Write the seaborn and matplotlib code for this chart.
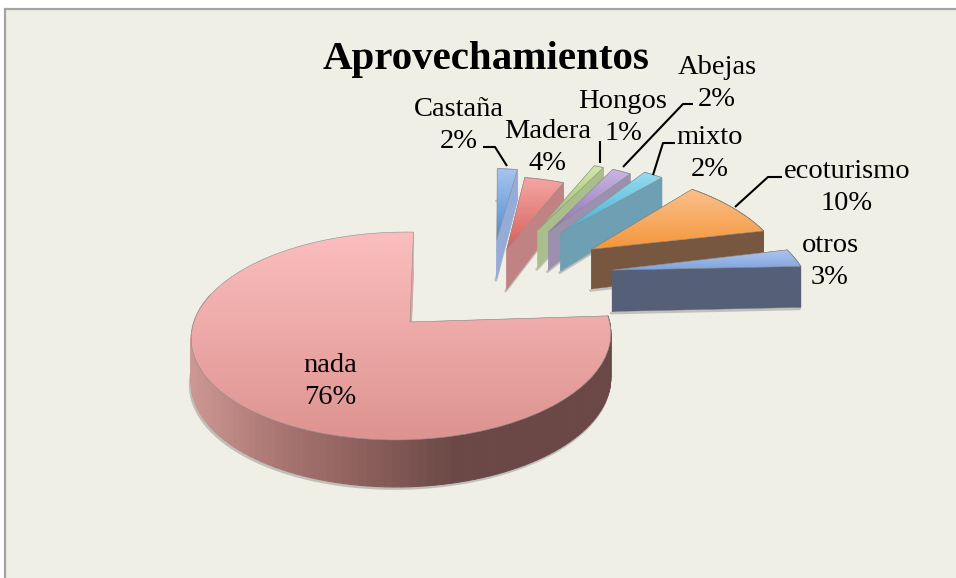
import numpy as np
import seaborn as sns
import matplotlib
matplotlib.use("Agg")
import matplotlib.pyplot as plt
from matplotlib.patches import Rectangle
from matplotlib.transforms import Transform

# values as printed on the chart
categories = ["Castaña", "Madera", "Hongos", "Abejas", "mixto", "ecoturismo", "otros", "nada"]
percent = [2, 4, 1, 2, 2, 10, 3, 76]

# how far each slice is pulled out, on the pie's own plane
pull_x = [0.46, 0.51, 0.70, 0.76, 0.83, 0.99, 1.08, 0.0]
pull_y = [0.92, 0.80, 1.055, 1.03, 1.02, 0.82, 0.57, 0.0]
radius = [1.0, 1.0, 1.03, 1.03, 1.08, 1.12, 1.12, 1.0]

top_light = ["#A9C4EE", "#F4A5A3", "#D5E8A8", "#C9B7E0", "#97DCF0", "#FBC08C", "#B0C7EE", "#FBBEBE"]
top_dark = ["#4F8FD0", "#D6605B", "#93B860", "#8E6FB6", "#3FB0CE", "#F4963A", "#7FA2DC", "#DD9390"]
wall_color = ["#95ACD8", "#C08283", "#A9BE8C", "#9B91AE", "#6E9FB3", "#77573F", "#556078", "#6B4846"]

label_x = [459, 548, 623, 717, 710, 847, 830, 330]
label_y = [110, 132, 102, 68, 138, 172, 246, 366]

# leader lines: Castaña, Hongos, Abejas, mixto, ecoturismo
leader_x = [[483, 495, 507], [600, 600], [693, 683, 623], [675, 663, 653], [782, 768, 735]]
leader_y = [[147, 147, 166], [141, 163], [104, 104, 167], [143, 143, 175], [177, 177, 207]]

BG = "#EFEFE6"
CX, CY = 410, 322


def denom(x, y):
    return 1 + 0.1346 * y + 0.04 * x


def wall_height(y):
    return 47 - 2.8 * np.clip(y, 0, None) ** 2 - 3.0 * np.clip(y + 1, 0, 2)


class Tilt(Transform):
    # perspective view of the pie plane, result in pixels
    input_dims = 2
    output_dims = 2
    is_separable = False
    has_inverse = False

    def transform_non_affine(self, values):
        x, y = values[:, 0], values[:, 1]
        w = denom(x, y)
        bend = 4 * y + 10 * np.clip(y - 1, 0, None) ** 2
        return np.column_stack([CX + (207.5 * x + bend) / w, CY - 102 * y / w])


tilt = Tilt()

sns.set_theme(style="white")
plt.rcParams["font.family"] = ["Liberation Serif", "DejaVu Serif"]

fig = plt.figure(figsize=(9.56, 5.78), dpi=100, facecolor="white")
ax = fig.add_axes([0, 0, 1, 1])
wedges, _ = ax.pie(percent, startangle=90, counterclock=False, radius=1)
ax.set_aspect("auto")
ax.set_xlim(0, 956)
ax.set_ylim(578, 0)
ax.axis("off")
ax.add_patch(Rectangle((5.5, 9), 970, 600, facecolor=BG, edgecolor="#A3A3A3", linewidth=1.6, zorder=0))

nada_wall = sns.blend_palette(["#CC9692", "#A87470", "#8A5F5B", "#6B4846", "#6B4846", "#6B4846"], as_cmap=True)

for i, wedge in enumerate(wedges):
    z = (i + 1) * 10
    ox, oy = pull_x[i], pull_y[i]
    r = radius[i]
    wedge.set_center((ox, oy))
    wedge.set_radius(r)
    wedge.set_transform(tilt + ax.transData)
    wedge.set_facecolor("none")
    wedge.set_edgecolor("#8E8E8E")
    wedge.set_linewidth(0.4)
    wedge.set_zorder(z + 5)

    step = 2 if i == 7 else 1
    angles = np.radians(np.linspace(wedge.theta1, wedge.theta2, max(int((wedge.theta2 - wedge.theta1) / step), 2) + 1))
    plane_pts = np.column_stack([ox + r * np.cos(angles), oy + r * np.sin(angles)])
    arc = tilt.transform(plane_pts)
    arc_h = wall_height(plane_pts[:, 1])
    apex = tilt.transform(np.array([[ox, oy]]))[0]
    apex_h = wall_height(oy)

    # soft shadow under the solid
    ax.plot(np.r_[apex[0], arc[:, 0]] - 1, np.r_[apex[1] + apex_h, arc[:, 1] + arc_h] + 1.5,
            color="#555555", alpha=0.3, lw=2, zorder=z)

    # the two cut faces
    for end in (0, -1):
        ax.fill([apex[0], arc[end, 0], arc[end, 0], apex[0]],
                [apex[1], arc[end, 1], arc[end, 1] + arc_h[end], apex[1] + apex_h],
                color=wall_color[i] if i < 7 else "#D9A5A3", lw=0.3, zorder=z + 1)

    # round outer wall, drawn strip by strip
    for j in range(len(arc) - 1):
        if i == 7:
            if plane_pts[j, 1] > 0.3:
                continue  # back of the big slice stays hidden under its top
            shade = nada_wall(np.clip((arc[j, 0] - 193) / 430, 0, 1))
        else:
            shade = wall_color[i]
        ax.fill([arc[j, 0], arc[j + 1, 0], arc[j + 1, 0], arc[j, 0]],
                [arc[j, 1], arc[j + 1, 1], arc[j + 1, 1] + arc_h[j + 1], arc[j, 1] + arc_h[j]],
                color=shade, lw=0.8, zorder=z + 2)

    # lit top face with a vertical gradient
    verts = tilt.transform(wedge.get_path().vertices)
    x0, y0 = verts.min(axis=0)
    x1, y1 = verts.max(axis=0)
    cmap = sns.blend_palette([top_light[i], top_dark[i]], as_cmap=True)
    grad = np.linspace(0, 1, 128).reshape(-1, 1)
    im = ax.imshow(grad, extent=(x0, x1, y1, y0), cmap=cmap, aspect="auto", zorder=z + 4)
    im.set_clip_path(wedge)

ax.set_xlim(0, 956)
ax.set_ylim(578, 0)

for lx, ly in zip(leader_x, leader_y):
    ax.plot(lx, ly, color="black", lw=1.5, zorder=200, solid_capstyle="butt")

for name, pct, x, y in zip(categories, percent, label_x, label_y):
    ax.text(x, y, name, ha="center", va="center", fontsize=20.5, color="black", zorder=210)
    ax.text(x, y + 32, f"{pct}%", ha="center", va="center", fontsize=20.5, color="black", zorder=210)

ax.text(486, 59, "Aprovechamientos", ha="center", va="center", fontsize=29.5, fontweight="bold",
        color="black", zorder=210)

fig.savefig("out.png", dpi=100, facecolor=fig.get_facecolor())
